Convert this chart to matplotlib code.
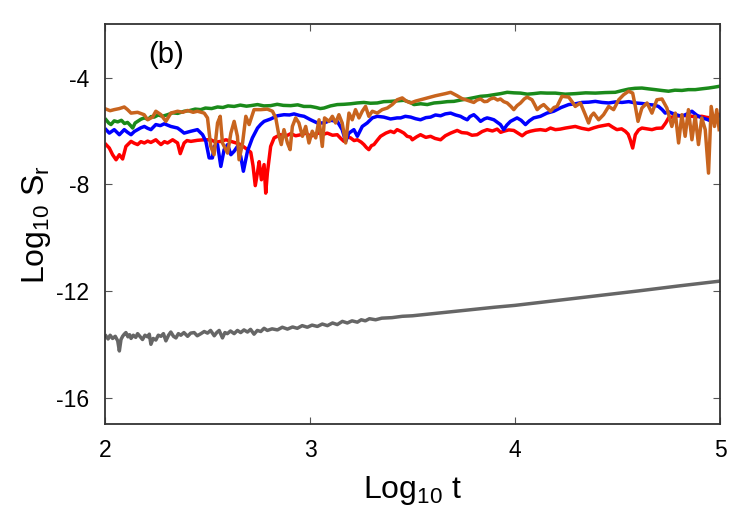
import matplotlib
matplotlib.use("Agg")
import matplotlib.pyplot as plt

plt.rcParams["font.family"] = ["Liberation Sans", "DejaVu Sans"]
plt.rcParams["mathtext.fontset"] = "custom"
plt.rcParams["mathtext.rm"] = "Liberation Sans"
plt.rcParams["mathtext.it"] = "Liberation Sans"
plt.rcParams["axes.unicode_minus"] = False

# (log10 t, log10 S_r)
red = [(2.005, -6.51), (2.021, -6.64), (2.037, -6.89), (2.054, -7.08), (2.070, -6.89),
       (2.086, -7.05), (2.102, -6.58), (2.115, -6.48), (2.127, -6.39), (2.143, -6.46),
       (2.159, -6.51), (2.175, -6.40), (2.192, -6.45), (2.208, -6.38), (2.224, -6.43),
       (2.248, -6.33), (2.260, -6.42), (2.273, -6.51), (2.290, -6.40), (2.305, -6.45),
       (2.330, -6.33), (2.354, -6.45), (2.367, -6.85), (2.386, -6.45), (2.400, -6.36),
       (2.419, -6.39), (2.451, -6.35), (2.484, -6.33), (2.516, -6.33), (2.540, -6.42),
       (2.565, -6.39), (2.590, -6.33), (2.614, -6.39), (2.640, -6.45), (2.662, -6.51),
       (2.695, -6.70), (2.711, -6.80), (2.722, -7.30), (2.733, -8.05), (2.745, -7.50),
       (2.752, -7.15), (2.763, -7.83), (2.776, -7.26), (2.784, -8.33), (2.792, -7.58),
       (2.808, -6.58), (2.825, -6.26), (2.840, -6.20), (2.857, -6.14), (2.880, -6.20),
       (2.906, -6.10), (2.930, -6.18), (2.955, -6.14), (2.980, -6.08), (3.003, -6.20),
       (3.028, -6.12), (3.052, -6.05), (3.068, -6.12), (3.084, -6.08), (3.110, -6.16),
       (3.133, -6.14), (3.150, -6.28), (3.166, -6.39), (3.182, -6.22), (3.198, -6.26),
       (3.215, -6.36), (3.231, -6.33), (3.250, -6.42), (3.263, -6.51), (3.275, -6.62),
       (3.287, -6.70), (3.300, -6.55), (3.312, -6.51), (3.328, -6.35), (3.344, -6.20),
       (3.370, -6.08), (3.393, -6.01), (3.410, -6.06), (3.425, -5.95), (3.442, -6.01),
       (3.458, -6.08), (3.474, -6.20), (3.490, -6.23), (3.499, -6.33), (3.520, -6.22),
       (3.539, -6.14), (3.565, -6.24), (3.588, -6.20), (3.610, -6.28), (3.637, -6.33),
       (3.660, -6.18), (3.686, -6.08), (3.718, -5.98), (3.740, -6.06), (3.767, -6.08),
       (3.790, -6.16), (3.815, -6.14), (3.840, -6.02), (3.864, -5.95), (3.890, -6.00),
       (3.913, -5.93), (3.930, -6.05), (3.945, -6.01), (3.970, -5.96), (3.994, -5.98),
       (4.015, -6.08), (4.035, -6.18), (4.055, -6.06), (4.075, -6.01), (4.100, -5.97),
       (4.124, -5.95), (4.150, -5.98), (4.173, -5.89), (4.197, -5.95), (4.221, -5.93),
       (4.246, -5.89), (4.270, -5.86), (4.294, -5.83), (4.325, -5.90), (4.359, -5.95),
       (4.385, -5.88), (4.408, -5.83), (4.430, -5.80), (4.457, -5.76), (4.477, -5.86),
       (4.497, -5.95), (4.520, -5.92), (4.538, -6.01), (4.552, -6.12), (4.562, -6.33),
       (4.574, -6.64), (4.587, -6.14), (4.603, -5.96), (4.619, -5.89), (4.645, -5.92),
       (4.668, -5.95), (4.690, -5.90), (4.717, -5.89), (4.735, -5.70), (4.749, -5.51),
       (4.765, -5.48), (4.782, -5.45), (4.815, -5.42), (4.846, -5.43), (4.880, -5.47),
       (4.911, -5.45), (4.935, -5.49), (4.960, -5.51), (4.980, -5.44), (4.993, -5.39)]

blue = [(2.005, -5.95), (2.021, -6.08), (2.045, -5.95), (2.070, -6.14), (2.094, -5.95),
        (2.110, -6.05), (2.127, -6.14), (2.143, -6.02), (2.159, -5.95), (2.175, -5.88),
        (2.192, -5.83), (2.208, -5.90), (2.224, -5.95), (2.248, -5.76), (2.270, -5.80),
        (2.289, -5.73), (2.305, -5.78), (2.321, -5.83), (2.354, -5.89), (2.370, -5.98),
        (2.386, -6.08), (2.419, -6.01), (2.451, -5.95), (2.476, -6.14), (2.492, -6.39),
        (2.508, -7.01), (2.524, -7.01), (2.532, -6.58), (2.549, -6.51), (2.565, -7.33),
        (2.581, -6.70), (2.598, -6.51), (2.614, -6.89), (2.630, -6.76), (2.646, -6.58),
        (2.662, -6.95), (2.675, -7.51), (2.695, -6.76), (2.719, -6.26), (2.744, -5.89),
        (2.760, -5.75), (2.776, -5.64), (2.808, -5.55), (2.841, -5.43), (2.873, -5.39),
        (2.900, -5.40), (2.922, -5.36), (2.950, -5.42), (2.971, -5.45), (3.003, -5.58),
        (3.036, -5.70), (3.068, -5.70), (3.101, -5.60), (3.133, -5.64), (3.157, -5.95),
        (3.174, -6.39), (3.190, -6.08), (3.214, -5.95), (3.231, -6.20), (3.255, -5.83),
        (3.279, -5.70), (3.304, -5.51), (3.328, -5.45), (3.360, -5.48), (3.393, -5.55),
        (3.425, -5.51), (3.442, -5.51), (3.465, -5.45), (3.491, -5.48), (3.515, -5.54),
        (3.539, -5.58), (3.565, -5.50), (3.588, -5.48), (3.612, -5.40), (3.637, -5.43),
        (3.660, -5.36), (3.686, -5.33), (3.710, -5.40), (3.734, -5.45), (3.750, -5.52),
        (3.767, -5.58), (3.780, -5.46), (3.799, -5.39), (3.815, -5.50), (3.832, -5.64),
        (3.850, -5.55), (3.864, -5.51), (3.880, -5.54), (3.897, -5.58), (3.915, -5.68),
        (3.929, -5.76), (3.945, -5.95), (3.960, -5.78), (3.978, -5.64), (4.010, -5.51),
        (4.030, -5.60), (4.051, -5.76), (4.070, -5.62), (4.091, -5.51), (4.124, -5.45),
        (4.156, -5.33), (4.189, -5.26), (4.225, -5.12), (4.262, -5.01), (4.295, -4.98),
        (4.327, -4.93), (4.360, -4.92), (4.392, -4.89), (4.425, -4.93), (4.457, -4.95),
        (4.490, -4.91), (4.522, -4.93), (4.555, -4.90), (4.587, -4.95), (4.620, -4.97),
        (4.652, -5.01), (4.680, -5.03), (4.700, -5.08), (4.718, -5.20), (4.733, -5.33),
        (4.750, -5.28), (4.765, -5.33), (4.790, -5.40), (4.814, -5.45), (4.840, -5.36),
        (4.863, -5.26), (4.885, -5.40), (4.911, -5.51), (4.935, -5.56), (4.960, -5.64),
        (4.975, -5.52), (4.993, -5.45)]

green = [(2.005, -5.58), (2.018, -5.70), (2.029, -5.76), (2.045, -5.62), (2.062, -5.66),
         (2.080, -5.60), (2.095, -5.72), (2.110, -5.68), (2.125, -5.80), (2.135, -5.89),
         (2.147, -5.70), (2.159, -5.64), (2.175, -5.56), (2.191, -5.51), (2.210, -5.56),
         (2.225, -5.46), (2.240, -5.48), (2.260, -5.40), (2.280, -5.45), (2.305, -5.39),
         (2.330, -5.32), (2.355, -5.34), (2.386, -5.26), (2.410, -5.24), (2.440, -5.18),
         (2.467, -5.20), (2.490, -5.14), (2.520, -5.16), (2.549, -5.10), (2.575, -5.12),
         (2.600, -5.06), (2.630, -5.08), (2.660, -5.03), (2.690, -5.07), (2.711, -5.05),
         (2.744, -5.01), (2.775, -5.06), (2.808, -5.05), (2.840, -5.00), (2.870, -5.04),
         (2.906, -5.05), (2.940, -5.02), (2.970, -5.08), (3.003, -5.08), (3.030, -5.12),
         (3.050, -5.16), (3.068, -5.14), (3.100, -5.06), (3.133, -5.01), (3.165, -5.00),
         (3.198, -4.98), (3.230, -4.95), (3.263, -4.93), (3.295, -4.96), (3.328, -4.95),
         (3.360, -4.90), (3.393, -4.89), (3.425, -4.87), (3.458, -4.85), (3.490, -4.93),
         (3.507, -5.01), (3.540, -4.98), (3.572, -5.01), (3.605, -4.95), (3.637, -4.93),
         (3.670, -4.90), (3.702, -4.89), (3.735, -4.84), (3.767, -4.80), (3.800, -4.75),
         (3.832, -4.70), (3.865, -4.68), (3.897, -4.64), (3.930, -4.60), (3.962, -4.55),
         (3.995, -4.57), (4.027, -4.58), (4.060, -4.62), (4.091, -4.60), (4.125, -4.57),
         (4.156, -4.58), (4.197, -4.58), (4.245, -4.62), (4.294, -4.60), (4.345, -4.57),
         (4.392, -4.58), (4.440, -4.56), (4.489, -4.55), (4.520, -4.49), (4.554, -4.43),
         (4.585, -4.40), (4.619, -4.39), (4.650, -4.42), (4.684, -4.45), (4.715, -4.48),
         (4.749, -4.51), (4.780, -4.47), (4.814, -4.48), (4.845, -4.45), (4.879, -4.45),
         (4.910, -4.42), (4.944, -4.39), (4.970, -4.36), (4.993, -4.33)]

orange = [(2.005, -5.18), (2.025, -5.24), (2.045, -5.20), (2.070, -5.16), (2.094, -5.10),
          (2.110, -5.20), (2.127, -5.33), (2.159, -5.30), (2.191, -5.39), (2.208, -5.58),
          (2.232, -5.48), (2.248, -5.26), (2.273, -5.39), (2.297, -5.64), (2.321, -5.33),
          (2.354, -5.26), (2.380, -5.30), (2.403, -5.23), (2.430, -5.30), (2.451, -5.26),
          (2.484, -5.33), (2.500, -5.51), (2.516, -6.58), (2.532, -6.89), (2.549, -5.70),
          (2.562, -5.45), (2.573, -6.45), (2.598, -6.83), (2.614, -6.08), (2.630, -5.64),
          (2.646, -6.20), (2.654, -7.08), (2.671, -6.45), (2.687, -5.45), (2.703, -5.76),
          (2.727, -5.20), (2.760, -5.20), (2.792, -5.18), (2.817, -5.26), (2.833, -5.51),
          (2.849, -6.20), (2.860, -6.51), (2.873, -5.95), (2.890, -6.45), (2.903, -6.70),
          (2.914, -5.83), (2.930, -5.51), (2.946, -5.70), (2.963, -6.20), (2.979, -5.83),
          (2.995, -6.45), (3.011, -6.01), (3.028, -6.26), (3.044, -5.58), (3.060, -6.58),
          (3.071, -5.51), (3.093, -5.64), (3.109, -5.45), (3.125, -5.70), (3.141, -5.39),
          (3.157, -5.70), (3.174, -6.45), (3.190, -5.33), (3.206, -5.58), (3.222, -5.20),
          (3.239, -5.51), (3.255, -5.26), (3.271, -5.08), (3.287, -5.45), (3.304, -5.26),
          (3.328, -5.33), (3.352, -5.20), (3.377, -5.14), (3.401, -5.01), (3.425, -4.83),
          (3.450, -4.76), (3.470, -4.88), (3.491, -4.95), (3.515, -4.88), (3.539, -4.83),
          (3.565, -4.78), (3.588, -4.73), (3.612, -4.68), (3.637, -4.64), (3.660, -4.60),
          (3.686, -4.55), (3.718, -4.68), (3.740, -4.78), (3.767, -4.85), (3.799, -4.93),
          (3.815, -4.84), (3.832, -4.80), (3.850, -4.90), (3.864, -4.89), (3.880, -4.80),
          (3.897, -4.76), (3.915, -4.84), (3.929, -4.80), (3.945, -4.90), (3.962, -4.95),
          (3.980, -5.08), (3.994, -5.20), (4.010, -5.05), (4.027, -4.95), (4.045, -4.80),
          (4.059, -4.73), (4.083, -4.83), (4.095, -5.00), (4.108, -5.20), (4.125, -5.08),
          (4.140, -5.01), (4.158, -5.15), (4.173, -5.26), (4.190, -5.12), (4.205, -5.08),
          (4.229, -4.70), (4.262, -4.73), (4.280, -4.92), (4.294, -5.08), (4.319, -4.95),
          (4.343, -5.39), (4.359, -5.70), (4.370, -5.45), (4.384, -5.33), (4.408, -5.58),
          (4.432, -5.39), (4.457, -5.08), (4.481, -5.20), (4.506, -4.83), (4.530, -4.64),
          (4.554, -4.51), (4.574, -4.58), (4.587, -5.08), (4.600, -5.64), (4.619, -5.14),
          (4.644, -4.95), (4.668, -5.33), (4.692, -4.83), (4.717, -4.80), (4.741, -5.14),
          (4.765, -5.83), (4.782, -5.33), (4.798, -6.45), (4.814, -5.39), (4.830, -6.20),
          (4.846, -5.20), (4.863, -6.33), (4.879, -5.45), (4.895, -6.51), (4.911, -5.51),
          (4.928, -5.95), (4.944, -7.58), (4.957, -5.08), (4.973, -5.83), (4.984, -5.20),
          (4.996, -5.95)]

gray = [(2.005, -13.69), (2.015, -13.80), (2.025, -13.66), (2.037, -13.78), (2.050, -13.70),
        (2.062, -13.87), (2.070, -14.25), (2.078, -13.82), (2.086, -13.70), (2.094, -13.62),
        (2.102, -13.56), (2.112, -13.72), (2.120, -13.64), (2.127, -13.78), (2.138, -13.66),
        (2.150, -13.74), (2.159, -13.60), (2.170, -13.70), (2.183, -13.82), (2.195, -13.66),
        (2.208, -13.72), (2.216, -13.62), (2.224, -14.00), (2.235, -13.78), (2.248, -13.84),
        (2.260, -13.66), (2.273, -13.70), (2.285, -13.60), (2.297, -13.87), (2.310, -13.66),
        (2.321, -13.54), (2.334, -13.70), (2.346, -13.76), (2.358, -13.60), (2.370, -13.66),
        (2.385, -13.56), (2.403, -13.70), (2.418, -13.58), (2.435, -13.56), (2.450, -13.68),
        (2.468, -13.60), (2.484, -13.52), (2.500, -13.58), (2.515, -13.48), (2.533, -13.68),
        (2.545, -13.56), (2.557, -13.48), (2.573, -13.76), (2.585, -13.56), (2.597, -13.60),
        (2.612, -13.50), (2.630, -13.60), (2.646, -13.48), (2.662, -13.56), (2.678, -13.46),
        (2.695, -13.54), (2.710, -13.44), (2.727, -13.62), (2.743, -13.48), (2.760, -13.52),
        (2.776, -13.40), (2.792, -13.48), (2.815, -13.42), (2.841, -13.46), (2.865, -13.36),
        (2.890, -13.43), (2.915, -13.35), (2.938, -13.40), (2.962, -13.30), (2.987, -13.36),
        (3.010, -13.28), (3.036, -13.33), (3.060, -13.24), (3.085, -13.30), (3.110, -13.20),
        (3.133, -13.26), (3.158, -13.14), (3.182, -13.20), (3.205, -13.12), (3.231, -13.17),
        (3.250, -13.08), (3.270, -13.12), (3.290, -13.04), (3.320, -13.08), (3.350, -13.02),
        (3.400, -13.00), (3.450, -12.95), (3.500, -12.93), (3.600, -12.85), (3.700, -12.77),
        (3.800, -12.69), (3.900, -12.61), (4.000, -12.54), (4.200, -12.36), (4.400, -12.18),
        (4.600, -12.00), (4.800, -11.81), (5.000, -11.63)]

x_ticks = [2, 3, 4, 5]
y_ticks = [-4, -8, -12, -16]

fig = plt.figure(figsize=(7.5, 5.25), dpi=100)
ax = fig.add_axes([0.14, 0.1918, 0.82, 0.7619])

lw = 2.5
for pts, col in [(gray, "#666666"), (red, "#ff0000"), (blue, "#0000ff"),
                 (green, "#1a8a1a"), (orange, "#c8641e")]:
    xs, ys = zip(*pts)
    ax.plot(xs, ys, color=col, lw=lw)

ax.set_xlim(2, 5)
ax.set_ylim(-17, -2)
ax.set_xticks(x_ticks)
ax.set_yticks(y_ticks)
ax.tick_params(direction="in", top=True, right=True, length=5, width=0.8,
               labelsize=16.5, color="#555555")
ax.tick_params(axis="x", pad=10.5)
ax.tick_params(axis="y", pad=11.5)
for s in ax.spines.values():
    s.set_linewidth(1.3)
    s.set_color("#333333")

ax.set_xlabel(r"Log$_{10}$ t", fontsize=23, labelpad=9)
ax.set_ylabel(r"Log$_{10}$ S$_{\mathrm{r}}$", fontsize=23, labelpad=2)
ax.text(2.297, -3.15, "(b)", fontsize=21, ha="center", va="center")

fig.savefig("out.png", dpi=100)
plt.close(fig)
